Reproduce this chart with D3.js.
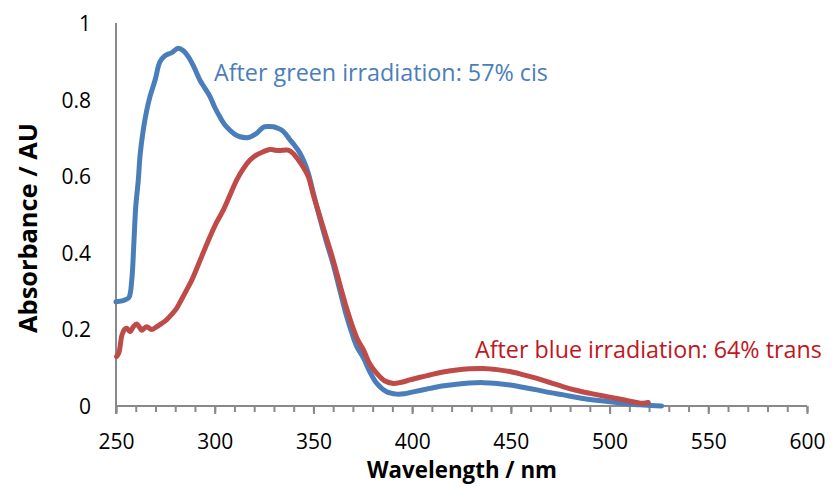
<!DOCTYPE html>
<html>
<head>
<meta charset="utf-8">
<script src="https://cdn.jsdelivr.net/npm/d3@7"></script>
<style>
  html, body { margin: 0; padding: 0; background: #fff; }
  svg { display: block; }
  text { font-family: "Open Sans", "Noto Sans", sans-serif; }
</style>
</head>
<body>
<svg id="chart" width="832" height="487"></svg>
<script>
// Absorption spectra after green and blue irradiation
const greenWavelength = [250, 254, 256.5, 258, 259, 260, 261.3, 262.2, 263.8, 265.5, 267.2, 269.8, 272.3, 275, 278, 281.6, 284, 286.6, 289.5, 292.6, 295, 297.6, 300, 302.6, 305, 307.7, 310, 312.8, 317, 319, 321.3, 324.6, 327, 329.7, 332, 334, 336, 338.1, 340.5, 343.2, 345.5, 347.4, 350, 353, 356.5, 360, 363.5, 366.5, 369.5, 372, 375.4, 378.5, 382.1, 387.1, 392.2, 396, 400.6, 409, 415, 422.5, 429, 436.1, 443, 449.6, 456, 463.2, 470, 476.7, 483, 490.1, 497, 503.6, 510, 515.4, 521, 526.4];
const greenAbsorbance = [0.272, 0.276, 0.283, 0.33, 0.42, 0.52, 0.59, 0.655, 0.72, 0.77, 0.808, 0.851, 0.899, 0.915, 0.922, 0.934, 0.928, 0.912, 0.885, 0.85, 0.83, 0.808, 0.78, 0.755, 0.735, 0.72, 0.71, 0.703, 0.701, 0.705, 0.712, 0.728, 0.73, 0.729, 0.725, 0.72, 0.71, 0.695, 0.68, 0.66, 0.635, 0.608, 0.555, 0.495, 0.43, 0.37, 0.3, 0.24, 0.19, 0.155, 0.125, 0.09, 0.059, 0.037, 0.031, 0.032, 0.037, 0.046, 0.052, 0.057, 0.06, 0.061, 0.059, 0.055, 0.049, 0.042, 0.035, 0.029, 0.023, 0.017, 0.013, 0.009, 0.005, 0.003, 0.001, 0.0];

const blueWavelength = [250.3, 251.5, 253, 254.3, 255.4, 257.1, 258.8, 260.5, 262, 263, 265.5, 268, 270.6, 273, 275.6, 278, 280.7, 283, 285.8, 288.5, 290.9, 294, 297.6, 301, 304.4, 307.5, 311.1, 314.5, 317.9, 321, 324.6, 328, 330.5, 333, 335, 337.3, 340, 342.4, 345, 347.4, 350, 353.3, 356.5, 360, 363.5, 366.8, 370, 372.5, 375.4, 378.5, 382.1, 386, 390.5, 394.5, 398.9, 404, 409, 415, 422.5, 429, 436.1, 443, 449.6, 456, 463.2, 470, 476.7, 483, 490.1, 497, 503.6, 509, 513.7, 517, 519.6];
const blueAbsorbance = [0.129, 0.14, 0.185, 0.2, 0.203, 0.194, 0.207, 0.214, 0.205, 0.198, 0.207, 0.2, 0.207, 0.215, 0.225, 0.238, 0.255, 0.276, 0.303, 0.33, 0.359, 0.398, 0.442, 0.48, 0.512, 0.548, 0.59, 0.62, 0.642, 0.655, 0.664, 0.67, 0.668, 0.667, 0.668, 0.668, 0.658, 0.642, 0.622, 0.599, 0.55, 0.494, 0.44, 0.381, 0.315, 0.255, 0.205, 0.172, 0.146, 0.11, 0.085, 0.066, 0.059, 0.062, 0.068, 0.075, 0.081, 0.088, 0.094, 0.097, 0.098, 0.095, 0.09, 0.082, 0.072, 0.061, 0.05, 0.041, 0.033, 0.026, 0.02, 0.014, 0.009, 0.007, 0.009];

const xTickValues = [250, 300, 350, 400, 450, 500, 550, 600];
const yTickValues = [0, 0.2, 0.4, 0.6, 0.8, 1];
const greenLabel = "After green irradiation: 57% cis";
const blueLabel = "After blue irradiation: 64% trans";
const xTitle = "Wavelength / nm";
const yTitle = "Absorbance / AU";

const svg = d3.select("#chart");
const plot = { left: 116, right: 807, top: 23, bottom: 406 };

const x = d3.scaleLinear().domain([250, 600]).range([plot.left, plot.right]);
const y = d3.scaleLinear().domain([0, 1]).range([plot.bottom, plot.top]);

const axisColor = "#898989";
const blueColor = "#4a7ebb";
const redColor = "#be4b48";

// Fit a text element's font size to a target width
function fitWidth(sel, width) {
  const node = sel.node();
  const fs = parseFloat(sel.attr("font-size"));
  const w = node.getComputedTextLength();
  sel.attr("font-size", (fs * width / w).toFixed(2));
}

// Spectra
const line = d3.line().x(d => x(d[0])).y(d => y(d[1])).curve(d3.curveCatmullRom.alpha(0.5));
const greenData = greenWavelength.map((w, i) => [w, greenAbsorbance[i]]);
const blueData = blueWavelength.map((w, i) => [w, blueAbsorbance[i]]);

// x axis: minor ticks every 10 nm, major every 50 nm
const xAxisMinor = d3.axisBottom(x).tickValues(d3.range(250, 601, 10)).tickSize(6).tickFormat("");
const gMinor = svg.append("g").attr("transform", `translate(0,${plot.bottom})`).call(xAxisMinor);
gMinor.select(".domain").remove();
gMinor.selectAll(".tick line").attr("stroke", axisColor).attr("stroke-width", 2);

const xAxis = d3.axisBottom(x).tickValues(xTickValues).tickSize(8).tickPadding(14).tickFormat(d3.format("d"));
const gx = svg.append("g").attr("transform", `translate(0,${plot.bottom})`).call(xAxis);
gx.select(".domain").attr("d", `M${plot.left},0H${plot.right}`).attr("stroke", axisColor).attr("stroke-width", 2);
gx.selectAll(".tick line").attr("stroke", axisColor).attr("stroke-width", 2);
gx.selectAll(".tick text").attr("font-size", 21).attr("fill", "#000")
  .attr("font-family", "'Open Sans', sans-serif").attr("dy", null).attr("y", 43);

// y axis: line only, labels without tick marks
const yAxis = d3.axisLeft(y).tickValues(yTickValues).tickSize(0).tickPadding(25)
  .tickFormat(d => d === 0 || d === 1 ? d3.format("d")(d) : d3.format(".1f")(d));
const gy = svg.append("g").attr("transform", `translate(${plot.left},0)`).call(yAxis);
gy.select(".domain").attr("d", `M0,${plot.top}V${plot.bottom + 8}`).attr("stroke", axisColor).attr("stroke-width", 2);
gy.selectAll(".tick text").attr("font-size", 21).attr("fill", "#000")
  .attr("font-family", "'Open Sans', sans-serif").attr("dy", "0.36em");

svg.append("path").datum(greenData).attr("d", line)
  .attr("fill", "none").attr("stroke", blueColor).attr("stroke-width", 5)
  .attr("stroke-linejoin", "round").attr("stroke-linecap", "round");
svg.append("path").datum(blueData).attr("d", line)
  .attr("fill", "none").attr("stroke", redColor).attr("stroke-width", 5)
  .attr("stroke-linejoin", "round").attr("stroke-linecap", "round");

// Annotations
const gLab = svg.append("text").attr("x", 214).attr("y", 81).attr("font-size", 22)
  .attr("fill", "#4a7ebb").text(greenLabel);
fitWidth(gLab, 334);
const bLab = svg.append("text").attr("x", 475).attr("y", 358).attr("font-size", 22)
  .attr("fill", "#c0161d").text(blueLabel);
fitWidth(bLab, 347);

// Axis titles
const xt = svg.append("text").attr("x", 462).attr("y", 478).attr("text-anchor", "middle")
  .attr("font-size", 21).attr("font-weight", "bold").attr("fill", "#000").text(xTitle);
fitWidth(xt, 190);
const yt = svg.append("text").attr("transform", "translate(37,228) rotate(-90)")
  .attr("text-anchor", "middle").attr("font-size", 21).attr("font-weight", "bold")
  .attr("fill", "#000").text(yTitle);
fitWidth(yt, 210);
</script>
</body>
</html>
